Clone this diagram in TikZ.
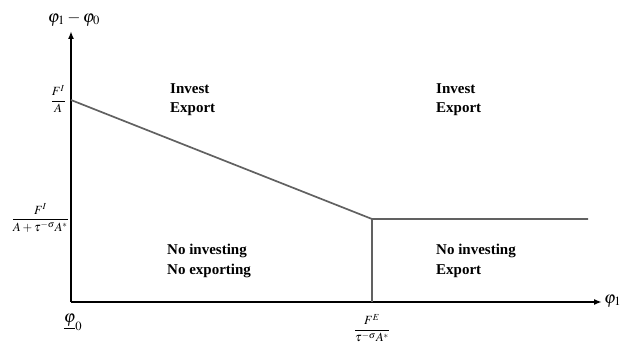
\documentclass[tikz,border=0pt]{standalone}
\usepackage{amsmath}
\usepackage{mathptmx}
\usepackage{fontspec}
\setmainfont{Liberation Serif}
\usetikzlibrary{arrows.meta}
\begin{document}
\begin{tikzpicture}[x=1pt, y=-1pt,
    axis/.style={line width=1.7pt, -{Latex[length=8pt,width=6pt]}},
    bound/.style={draw=black!62, line width=1.7pt},
    region/.style={font=\bfseries\fontsize{15}{19.5}\selectfont, align=left,
      anchor=north west, inner sep=0pt},
    tick/.style={font=\fontsize{12.5}{14}\selectfont, inner sep=0pt}]
  \useasboundingbox (0,0) rectangle (621,344);
  % axes
  \coordinate (O) at (71,302);
  \coordinate (Ytop) at (71,31);
  \coordinate (Xend) at (602,302);
  \draw[axis] (O) -- (Ytop);
  \draw[axis] (O) -- (Xend);
  \node[font=\fontsize{17}{20}\selectfont] (ylab) at (74,19) {$\varphi_1-\varphi_0$};
  \node[font=\fontsize{17}{20}\selectfont, anchor=west, inner sep=0pt] (xlab)
    at (604,301) {$\varphi_1$};
  % cutoff lines
  \coordinate (A) at (71,100);
  \coordinate (K) at (372,219);
  \coordinate (R) at (588,219);
  \coordinate (Kb) at (K |- O);
  \draw[bound] (A) -- (K) -- (R);
  \draw[bound] (K) -- (Kb);
  % tick labels
  \node[tick, anchor=east] (fa) at (66,99) {$\dfrac{F^I}{A}$};
  \node[tick, anchor=east] (fb) at (69,218) {$\dfrac{F^I}{A+\tau^{-\sigma}A^*}$};
  \node[font=\fontsize{17}{20}\selectfont] (phi0) at (73,322) {$\underline{\varphi}_0$};
  \node[tick] (fe) at (372,328) {$\dfrac{F^E}{\tau^{-\sigma}A^*}$};
  % regions
  \node[region] (ie1) at (170,83) {Invest\\Export};
  \node[region] (ie2) at (436,83) {Invest\\Export};
  \node[region] (nn) at (167,244) {No investing\\No exporting};
  \node[region] (ne) at (436,244) {No investing\\Export};
\end{tikzpicture}
\end{document}
